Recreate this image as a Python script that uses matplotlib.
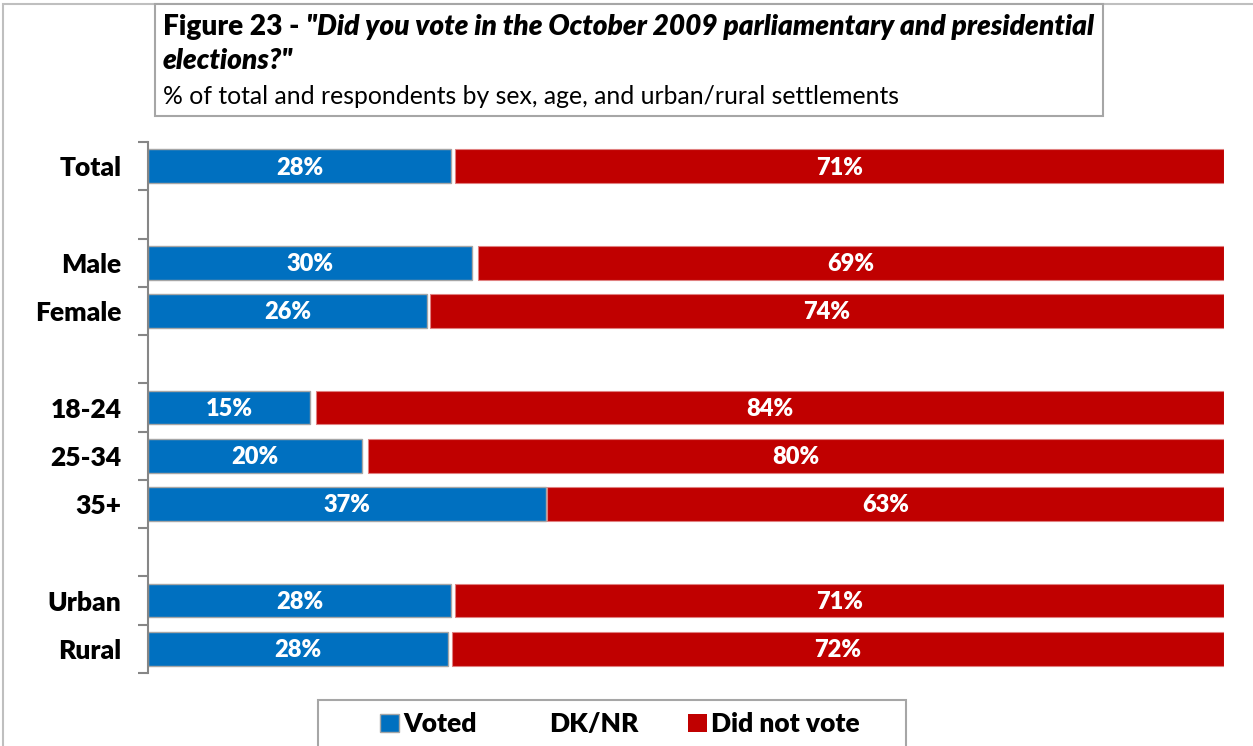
import matplotlib
matplotlib.use("Agg")
import matplotlib.pyplot as plt
from matplotlib.patches import Rectangle, Patch
import numpy as np

plt.rcParams['font.family'] = ['Lato', 'DejaVu Sans']

# survey results, % of respondents
groups = [["Total"], ["Male", "Female"], ["18-24", "25-34", "35+"], ["Urban", "Rural"]]
voted = [28, 30, 26, 15, 20, 37, 28, 28]
dk_nr = [0.3, 0.5, 0.3, 0.5, 0.6, 0.1, 0.3, 0.3]
not_voted = [71, 69, 74, 84, 80, 63, 71, 72]
series_names = ["Voted", "DK/NR", "Did not vote"]

BLUE = "#0070C0"
RED = "#C00000"
GRAY = "#A6A6A6"
WEIGHT = "heavy"

# one empty slot between groups
labels, rows = [], []
slot = 0
for i, g in enumerate(groups):
    if i > 0:
        slot += 1
    for name in g:
        labels.append(name)
        rows.append(slot)
        slot += 1
n_slots = slot
rows = np.array(rows)

v = np.array(voted, float)
d = np.array(dk_nr, float)
nv = np.array(not_voted, float)
tot = v + d + nv
v_pct, d_pct, nv_pct = v / tot * 100, d / tot * 100, nv / tot * 100

W, H = 1253, 746
fig = plt.figure(figsize=(W / 100, H / 100), dpi=100)

# chart area border, title box, legend box
fig.patches.append(Rectangle((3 / W, -0.1), 1.2, (H - 4) / H + 0.1, transform=fig.transFigure,
                             fill=False, edgecolor="#BFBFBF", linewidth=1.5))
fig.patches.append(Rectangle((155 / W, 1 - 116 / H), (1103 - 155) / W, (116 - 4) / H,
                             transform=fig.transFigure, facecolor="white",
                             edgecolor="#A6A6A6", linewidth=1.5))
fig.patches.append(Rectangle((318 / W, -0.1), (906 - 318) / W, 0.1 + (H - 700) / H,
                             transform=fig.transFigure, facecolor="white",
                             edgecolor="#A6A6A6", linewidth=1.5))

ax = fig.add_axes([148 / W, 1 - 673 / H, (1224 - 148) / W, (673 - 142) / H])

h = 0.7
ax.barh(rows, v_pct, height=h, color=BLUE, edgecolor=GRAY, linewidth=1, label=series_names[0])
ax.barh(rows, d_pct, left=v_pct, height=h, color="none", edgecolor="none", label=series_names[1])
ax.barh(rows, nv_pct, left=v_pct + d_pct, height=h, color=RED, edgecolor="#E08080",
        linewidth=0.8, label=series_names[2])

for y, a, b, c, va, nva in zip(rows, v_pct, d_pct, nv_pct, voted, not_voted):
    ax.text(a / 2, y + 0.03, f"{va}%", ha="center", va="center", color="white",
            fontsize=17, fontweight=WEIGHT)
    ax.text(a + b + c / 2, y + 0.03, f"{nva}%", ha="center", va="center", color="white",
            fontsize=17, fontweight=WEIGHT)

ax.set_xlim(0, 100)
ax.set_ylim(n_slots - 0.5, -0.5)
ax.set_xticks([])
ax.set_yticks(np.arange(-0.5, n_slots, 1))
ax.set_yticklabels([])
ax.tick_params(axis="y", which="major", direction="out", length=7, width=1.5, color="#868686")
ax.set_yticks(rows, minor=True)
ax.set_yticklabels(labels, minor=True, fontsize=19, fontweight=WEIGHT)
ax.tick_params(axis="y", which="minor", length=0, pad=19)
for s in ["top", "right", "bottom"]:
    ax.spines[s].set_visible(False)
ax.spines["left"].set_color("#868686")
ax.spines["left"].set_linewidth(1.5)

# title
renderer = fig.canvas.get_renderer()
t1 = fig.text(163 / W, 1 - 27 / H, "Figure 23 - ", fontsize=20.2, fontweight=WEIGHT, va="center")
bb = t1.get_window_extent(renderer)
fig.text(bb.x1 / W, 1 - 27 / H, "\"Did you vote in the October 2009 parliamentary and presidential",
         fontsize=20.2, fontweight=WEIGHT, style="italic", va="center")
fig.text(163 / W, 1 - 61 / H, "elections?\"", fontsize=20.2, fontweight=WEIGHT, style="italic",
         va="center")
fig.text(163 / W, 1 - 97 / H, "% of total and respondents by sex, age, and urban/rural settlements",
         fontsize=17.8, va="center")

handles = [Patch(facecolor=BLUE, edgecolor=GRAY), Patch(facecolor="none", edgecolor="none"),
           Patch(facecolor=RED, edgecolor="none")]
fig.legend(handles, series_names, loc="center", bbox_to_anchor=(620 / W, 1 - 724 / H),
           ncol=3, frameon=False, prop={"size": 19, "weight": WEIGHT},
           handlelength=0.7, handleheight=0.7, handletextpad=0.15, columnspacing=1.9)

fig.savefig("out.png", dpi=100)
